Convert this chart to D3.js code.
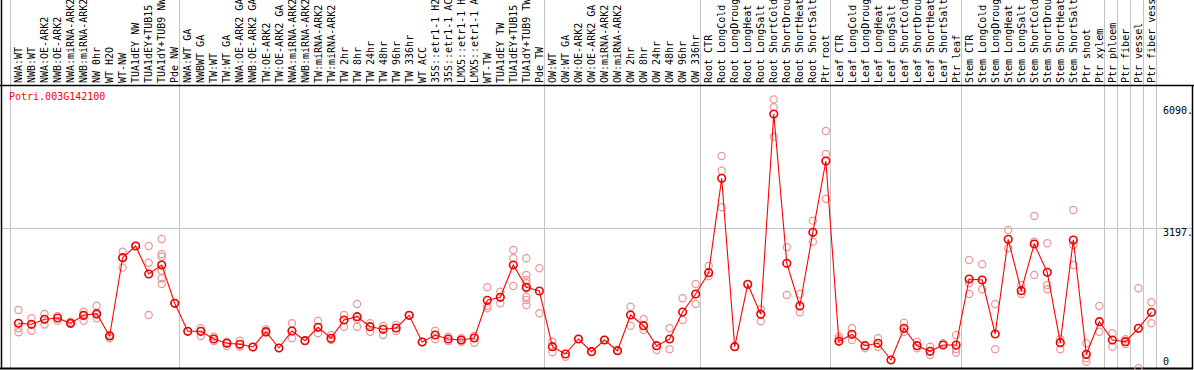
<!DOCTYPE html>
<html>
<head>
<meta charset="utf-8">
<script src="https://cdn.jsdelivr.net/npm/d3@7"></script>
<style>
  body { margin: 0; background: #fff; }
  svg { display: block; }
  text { font-family: "DejaVu Sans Mono", monospace; font-size: 10px; }
</style>
</head>
<body>
<svg id="chart" width="1194" height="370"></svg>
<script>
const geneId = "Potri.003G142100";

const categories = [
  "NWA:WT", "NWB:WT", "NWA:OE-ARK2", "NWB:OE-ARK2", "NWA:miRNA-ARK2", "NWB:miRNA-ARK2",
  "NW 0hr", "WT H2O", "WT-NW", "TUA1dEY NW", "TUA1dEY+TUB15 NW", "TUA1dY+TUB9 NW", "Pde NW",
  "NWA:WT GA", "NWBWT GA", "TW:WT", "TW:WT GA", "NWA:OE-ARK2 GA", "NWB:OE-ARK2 GA",
  "TW:OE-ARK2", "TW:OE-ARK2 GA", "NWA:miRNA-ARK2 GA", "NWB:miRNA-ARK2 GA", "TW:miRNA-ARK2",
  "TW:miRNA-ARK2 GA", "TW 2hr", "TW 8hr", "TW 24hr", "TW 48hr", "TW 96hr", "TW 336hr", "WT ACC",
  "35S::etr1-1 H2O", "35S::etr1-1 ACC", "LMX5::etr1-1 H2O", "LMX5::etr1-1 ACC", "WT-TW",
  "TUA1dEY TW", "TUA1dEY+TUB15 TW", "TUA1dY+TUB9 TW", "Pde TW",
  "OW:WT", "OW:WT GA", "OW:OE-ARK2", "OW:OE-ARK2 GA", "OW:miRNA-ARK2", "OW:miRNA-ARK2 GA",
  "OW 2hr", "OW 8hr", "OW 24hr", "OW 48hr", "OW 96hr", "OW 336hr",
  "Root CTR", "Root LongCold", "Root LongDrought", "Root LongHeat", "Root LongSalt",
  "Root ShortCold", "Root ShortDrought", "Root ShortHeat", "Root ShortSalt", "Ptr root",
  "Leaf CTR", "Leaf LongCold", "Leaf LongDrought", "Leaf LongHeat", "Leaf LongSalt",
  "Leaf ShortCold", "Leaf ShortDrought", "Leaf ShortHeat", "Leaf ShortSalt", "Ptr leaf",
  "Stem CTR", "Stem LongCold", "Stem LongDrought", "Stem LongHeat", "Stem LongSalt",
  "Stem ShortCold", "Stem ShortDrought", "Stem ShortHeat", "Stem ShortSalt", "Ptr shoot",
  "Ptr xylem", "Ptr phloem", "Ptr fiber", "Ptr vessel", "Ptr fiber vessel"
];

// number of categories in each block between the grey separators
const groupSizes = [13, 28, 12, 10, 10, 11, 1, 1, 1, 1];

// mean expression per category
const means = [
  1033, 1010, 1123, 1152, 1033, 1213, 1250, 746, 2515, 2779, 2147, 2350, 1485,
  852, 852, 678, 581, 558, 497, 843, 475, 859, 639, 942, 694, 1107, 1182, 956, 897, 926,
  1213, 610, 768, 678, 655, 700, 1552, 1620, 2350, 1846, 1762,
  504, 339, 678, 391, 655, 413, 1220, 978, 526, 678, 1288, 1695,
  2176, 4309, 504, 1914, 1236, 5762, 2388, 1423, 3089, 4700,
  626, 784, 526, 581, 203, 920, 526, 400, 542, 542,
  2034, 2011, 791, 2931, 1769, 2824, 2185, 594, 2915, 332, 1069,
  655, 617, 920, 1281
];

// individual replicate values per category
const replicates = [
  [1333, 920, 829], [1146, 866], [1243, 1003], [1198, 1092], [1069, 1017], [1295, 1092, 1198],
  [1431, 1146, 1220], [768, 694], [2651, 2290, 2515], [2779], [2780, 2402, 1220],
  [2938, 2592, 2538, 2222, 2050, 1921], [1485],
  [852], [920, 746], [730, 633], [617, 520], [639, 504], [497], [897, 814], [475], [1033, 694],
  [639], [1092, 807], [768, 655], [1220, 956], [1469, 956, 1123], [1033, 843], [972, 768],
  [994, 859], [1213], [610], [866, 671], [730, 633], [694, 617], [594, 746],
  [1846, 1424, 1372], [1747, 1485], [2689, 2502, 1876],
  [2502, 2124, 2011, 1937, 1824, 1634, 1559, 1446], [2276, 1259],
  [617, 377], [278], [678], [391], [655], [413], [1408, 979], [1123, 881], [429], [920, 445],
  [1598, 1107], [1921, 1469],
  [2328, 2102], [4814, 4482, 3654], [504], [1914], [1349, 1078], [6090, 5914, 5250],
  [2750, 1672], [1695, 1281], [3352, 2877], [5379, 4859, 3842],
  [730, 678], [920, 655], [468], [694, 504], [203], [1046, 843], [617, 468], [504, 316],
  [581], [768, 445, 368],
  [2463, 1937, 1695], [2366, 1801], [1469, 445], [3141, 2728], [1898, 1695], [3458, 2877, 2124],
  [2841, 1898, 1801], [671, 445], [3593, 2802, 2350], [581, 242, 165], [1424, 843],
  [807, 504], [671, 565], [1824, 16], [1507, 1033]
];

const maxValue = 6090.0;
const tickValues = [6090.0, 3197.25, 0];
const tickLabels = ["6090.0", "3197.25", "0"];

const W = 1194, H = 370;
const plot = { left: 10, right: 1156, top: 86, bottom: 369 };

const svg = d3.select("#chart");
svg.append("rect").attr("width", W).attr("height", H).attr("fill", "#fff");

const x = d3.scaleBand()
  .domain(d3.range(categories.length))
  .range([plot.left, plot.right]);
const cx = i => x(i) + x.bandwidth() * 0.65;

const y = d3.scaleLinear()
  .domain([0, maxValue * 1.05])
  .range([plot.bottom, plot.top]);

// grey grid: group separators (full height) and the mid line
let acc = 0;
const bounds = [0];
groupSizes.forEach(n => { acc += n; bounds.push(acc); });
svg.append("g")
  .selectAll("line")
  .data(bounds)
  .join("line")
  .attr("x1", d => Math.round(d < categories.length ? x(d) : plot.right) + 0.5)
  .attr("x2", d => Math.round(d < categories.length ? x(d) : plot.right) + 0.5)
  .attr("y1", 0)
  .attr("y2", plot.bottom)
  .attr("stroke", "#c4c4c4");

svg.append("line")
  .attr("x1", 2).attr("x2", W - 2)
  .attr("y1", Math.round(y(tickValues[1])) + 0.5)
  .attr("y2", Math.round(y(tickValues[1])) + 0.5)
  .attr("stroke", "#c4c4c4");

// frame
svg.append("line").attr("x1", 0).attr("x2", W).attr("y1", 85.5).attr("y2", 85.5)
  .attr("stroke", "#000").attr("stroke-width", 1.5);
svg.append("line").attr("x1", 0).attr("x2", W - 1).attr("y1", 368.5).attr("y2", 368.5)
  .attr("stroke", "#000").attr("stroke-width", 2);
svg.append("line").attr("x1", 1.5).attr("x2", 1.5).attr("y1", 0).attr("y2", 369)
  .attr("stroke", "#000").attr("stroke-width", 1.5);
svg.append("line").attr("x1", 1192.5).attr("x2", 1192.5).attr("y1", 86).attr("y2", 369)
  .attr("stroke", "#000").attr("stroke-width", 1.5);

// column labels, reading upward
svg.append("g")
  .selectAll("text")
  .data(categories)
  .join("text")
  .attr("transform", (d, i) => `translate(${cx(i)},83) rotate(-90)`)
  .attr("dy", "0.36em")
  .attr("fill", "#000")
  .text(d => d);

// gene id
svg.append("text")
  .attr("x", 9).attr("y", 100)
  .attr("fill", "#ff0000")
  .text(geneId);

// value labels on the right, clipped by the frame
svg.append("clipPath").attr("id", "rclip")
  .append("rect").attr("x", 1158).attr("y", 86).attr("width", 34).attr("height", 284);
svg.append("g")
  .attr("clip-path", "url(#rclip)")
  .selectAll("text")
  .data(tickValues)
  .join("text")
  .attr("x", 1163)
  .attr("y", (d, i) => d === 0 ? y(d) - 4 : (d === maxValue ? y(d) + 15 : y(d) + 8.5))
  .attr("fill", "#000")
  .text((d, i) => tickLabels[i]);

// replicate circles
const reps = [];
replicates.forEach((arr, i) => arr.forEach(v => reps.push({ i, v })));
svg.append("g")
  .selectAll("circle")
  .data(reps)
  .join("circle")
  .attr("cx", d => cx(d.i))
  .attr("cy", d => y(d.v))
  .attr("r", 3.6)
  .attr("fill", "none")
  .attr("stroke", "#ec9696")
  .attr("stroke-width", 1.2);

// mean line
const line = d3.line()
  .x((d, i) => cx(i))
  .y(d => y(d));
svg.append("path")
  .datum(means)
  .attr("d", line)
  .attr("fill", "none")
  .attr("stroke", "#ff0000")
  .attr("stroke-width", 1.1);

// mean circles
svg.append("g")
  .selectAll("circle")
  .data(means)
  .join("circle")
  .attr("cx", (d, i) => cx(i))
  .attr("cy", d => y(d))
  .attr("r", 3.8)
  .attr("fill", "none")
  .attr("stroke", "#ee0000")
  .attr("stroke-width", 1.6);
</script>
</body>
</html>
